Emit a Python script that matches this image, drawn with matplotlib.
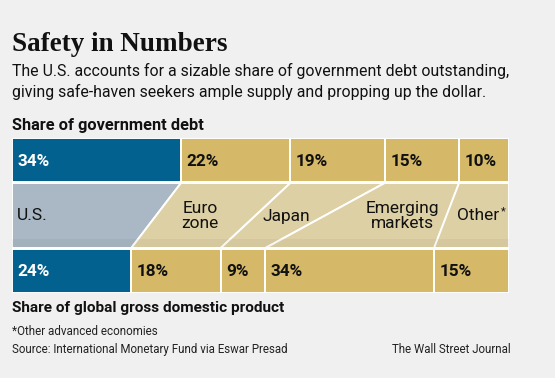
import matplotlib.pyplot as plt
from matplotlib.patches import Polygon
import numpy as np

# dados
regioes = ["U.S.", "Euro\nzone", "Japan", "Emerging\nmarkets", "Other"]
divida = [34, 22, 19, 15, 10]   # share of government debt
pib = [24, 18, 9, 34, 15]       # share of global GDP

azul = "#02618f"
dourado = "#d5b968"
cinza_azul = "#a9b8c4"
bege = "#ddd0a4"
fundo = "#f0f0f0"

sans = ["Roboto", "DejaVu Sans"]

fig = plt.figure(figsize=(5.55, 3.78), dpi=100, facecolor=fundo)

# eixo das barras: x em %, y em pixels (invertido)
ax = fig.add_axes([12 / 555, 1 - 293 / 378, 497 / 555, 155 / 378])
ax.set_xlim(0, 100)
ax.set_ylim(293, 138)
ax.axis("off")

topo = (138, 182)
meio = (183, 248)
base = (249, 293)

ini_top = np.concatenate([[0], np.cumsum(divida)[:-1]])
ini_bot = np.concatenate([[0], np.cumsum(pib)[:-1]])

for i in range(len(regioes)):
    cor = azul if i == 0 else dourado
    ax.barh((topo[0] + topo[1]) / 2, divida[i], left=ini_top[i], height=topo[1] - topo[0],
            color=cor, edgecolor="white", linewidth=1.4)
    ax.barh((base[0] + base[1]) / 2, pib[i], left=ini_bot[i], height=base[1] - base[0],
            color=cor, edgecolor="white", linewidth=1.4)
    cor_txt = "white" if i == 0 else "#111111"
    ax.text(ini_top[i] + 1.1, (topo[0] + topo[1]) / 2 + 1, f"{divida[i]}%", color=cor_txt,
            fontsize=12.3, fontweight="bold", family=sans, va="center", ha="left")
    ax.text(ini_bot[i] + 1.1, (base[0] + base[1]) / 2 + 1, f"{pib[i]}%", color=cor_txt,
            fontsize=12.3, fontweight="bold", family=sans, va="center", ha="left")

    # faixa do meio ligando as duas barras
    fim_top = ini_top[i] + divida[i]
    fim_bot = ini_bot[i] + pib[i]
    pts = [(ini_top[i], meio[0]), (fim_top, meio[0]), (fim_bot, meio[1]), (ini_bot[i], meio[1])]
    ax.add_patch(Polygon(pts, closed=True, facecolor=cinza_azul if i == 0 else bege,
                         edgecolor="white", linewidth=1.4))

# leve sombra na parte de baixo da faixa do meio
ax.fill_between([0, 100], 239, 247, color="black", alpha=0.035, linewidth=0)

# rotulos da faixa do meio
ym = 216
pos_rotulo = [1, 37.8, 55.1, 78.5, 89.6]
alinh = ["left", "center", "center", "center", "left"]
for i in range(len(regioes)):
    ax.text(pos_rotulo[i], ym, regioes[i], fontsize=12.5, family=sans, va="center",
            ha=alinh[i], color="#111111", linespacing=1.0)
ax.text(98.4, ym - 5, "*", fontsize=8, family=sans, va="center", ha="left", color="#111111")

# textos
fig.text(12 / 555, 1 - 51 / 378, "Safety in Numbers", fontsize=19.5, fontweight="bold",
         family=["Liberation Serif", "DejaVu Serif"], color="#111111")
fig.text(12 / 555, 1 - 76 / 378, "The U.S. accounts for a sizable share of government debt outstanding,",
         fontsize=11.4, family=sans, color="#111111")
fig.text(12 / 555, 1 - 97 / 378, "giving safe-haven seekers ample supply and propping up the dollar.",
         fontsize=11.4, family=sans, color="#111111")
fig.text(12 / 555, 1 - 130 / 378, "Share of government debt", fontsize=11.8, fontweight="bold",
         family=sans, color="#111111")
fig.text(12 / 555, 1 - 312 / 378, "Share of global gross domestic product", fontsize=11.1,
         fontweight="bold", family=sans, color="#111111")
fig.text(12 / 555, 1 - 335 / 378, "*Other advanced economies", fontsize=8.4, family=sans,
         color="#222222")
fig.text(12 / 555, 1 - 353 / 378, "Source: International Monetary Fund via Eswar Presad",
         fontsize=8.3, family=sans, color="#222222")
fig.text(511 / 555, 1 - 353 / 378, "The Wall Street Journal", fontsize=8.3, family=sans,
         color="#222222", ha="right")

fig.savefig("out.png", dpi=100, facecolor=fundo)
